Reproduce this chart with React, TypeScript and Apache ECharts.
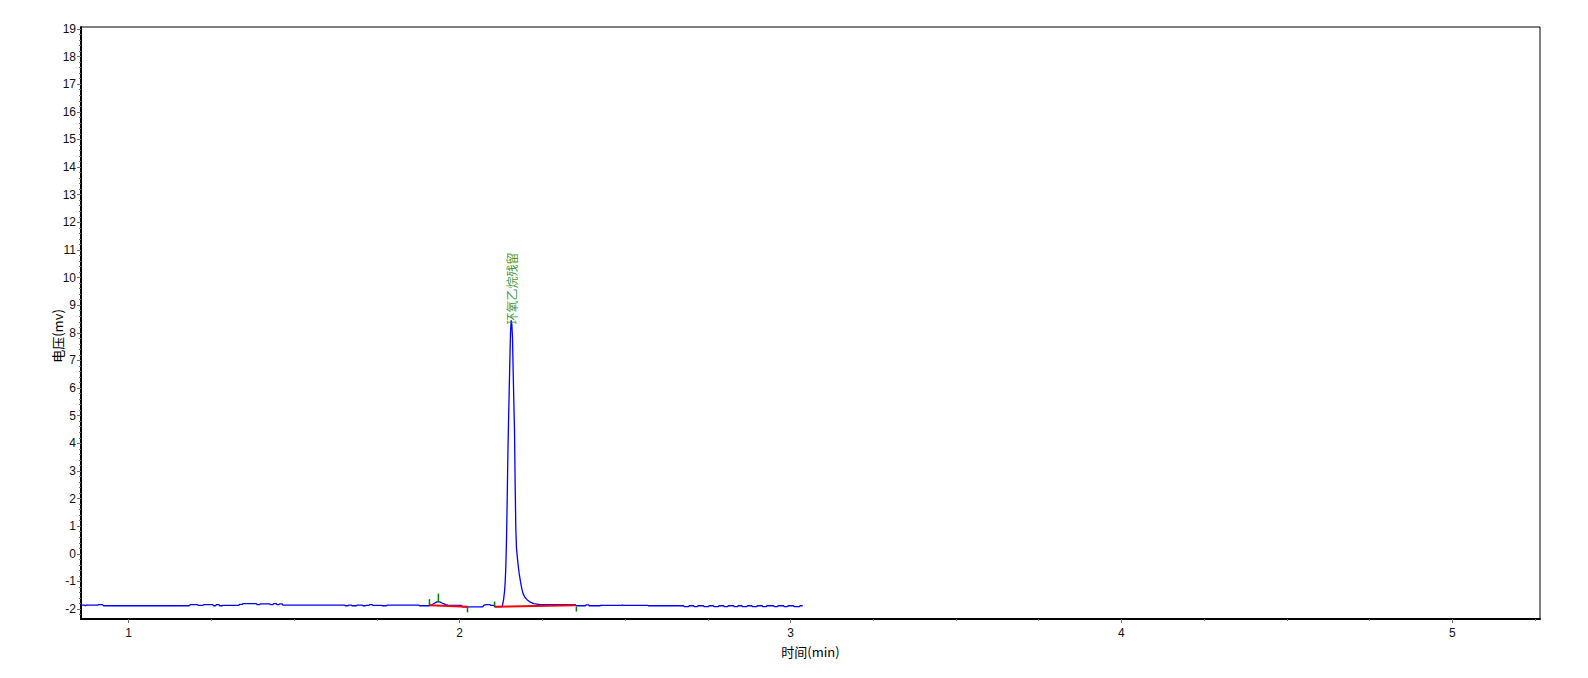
import React, { useEffect, useRef } from "react";
import * as echarts from "echarts";

// Axis ranges and ticks
const X_MIN = 0.856;
const X_MAX = 5.265;
const Y_MIN = -2.36;
const Y_MAX = 19.07;
const xMajor = [1, 2, 3, 4, 5];
const xMinor = [1.25, 1.5, 1.75, 2.25, 2.5, 2.75, 3.25, 3.5, 3.75, 4.25, 4.5, 4.75, 5.25];
const yMajor = [-2, -1, 0, 1, 2, 3, 4, 5, 6, 7, 8, 9, 10, 11, 12, 13, 14, 15, 16, 17, 18, 19];
const yMinor: number[] = [];
for (let v = -2.2; v < 19.05; v += 0.2) {
  const r = Math.round(v * 10) / 10;
  if (Math.abs(r - Math.round(r)) > 0.01) yMinor.push(r);
}

// Chromatogram trace: [time (min), voltage (mV)]
const trace: [number, number][] = [
  [0.856, -1.86], [0.866, -1.86], [0.869, -1.88], [0.872, -1.86], [0.906, -1.86], [0.909, -1.84], [0.921, -1.84], [0.924, -1.88],
  [1.183, -1.88], [1.186, -1.84], [1.208, -1.84], [1.211, -1.87], [1.224, -1.87], [1.227, -1.84], [1.254, -1.84], [1.257, -1.88],
  [1.263, -1.88], [1.265, -1.84], [1.273, -1.84], [1.275, -1.88], [1.283, -1.88], [1.285, -1.87],
  [1.333, -1.87], [1.335, -1.83], [1.344, -1.83], [1.346, -1.8], [1.386, -1.8], [1.388, -1.84], [1.396, -1.84], [1.398, -1.81],
  [1.426, -1.81], [1.428, -1.84], [1.436, -1.84], [1.438, -1.8], [1.446, -1.8], [1.448, -1.84], [1.454, -1.84], [1.456, -1.81],
  [1.464, -1.81], [1.466, -1.86],
  [1.653, -1.86], [1.655, -1.88], [1.663, -1.88], [1.665, -1.86], [1.673, -1.86], [1.675, -1.88], [1.688, -1.88], [1.69, -1.86],
  [1.706, -1.86], [1.708, -1.88], [1.716, -1.88], [1.718, -1.87], [1.726, -1.87], [1.728, -1.84], [1.736, -1.84], [1.738, -1.87],
  [1.764, -1.87], [1.766, -1.88], [1.779, -1.88], [1.781, -1.86],
  [1.877, -1.86], [1.879, -1.88], [1.909, -1.88],
  [1.915, -1.86], [1.921, -1.81], [1.927, -1.77], [1.932, -1.74], [1.94, -1.74], [1.947, -1.78], [1.953, -1.81], [1.959, -1.84],
  [1.965, -1.86], [2.006, -1.87], [2.008, -1.92], [2.07, -1.92], [2.073, -1.87], [2.08, -1.84], [2.092, -1.84], [2.095, -1.87],
  [2.104, -1.87], [2.106, -1.91], [2.128, -1.91],
  [2.13, -1.85], [2.133, -1.66], [2.136, -1.35], [2.138, -1.0], [2.14, -0.4], [2.142, 0.6], [2.144, 2.0], [2.146, 3.6],
  [2.148, 4.8], [2.15, 5.9], [2.152, 7.0], [2.154, 8.0], [2.156, 8.45], [2.158, 8.3], [2.16, 7.8], [2.162, 6.6],
  [2.164, 5.5], [2.166, 4.5], [2.168, 2.5], [2.17, 0.9], [2.172, 0.2], [2.176, -0.3], [2.18, -0.7], [2.184, -1.0],
  [2.188, -1.25], [2.192, -1.45], [2.198, -1.58], [2.204, -1.66], [2.214, -1.75], [2.224, -1.8], [2.243, -1.84],
  [2.35, -1.84], [2.352, -1.88], [2.38, -1.88], [2.382, -1.85], [2.39, -1.85], [2.392, -1.88], [2.425, -1.88], [2.427, -1.86],
  [2.432, -1.87], [2.49, -1.87], [2.492, -1.85], [2.495, -1.87], [2.57, -1.87], [2.572, -1.89], [2.575, -1.88], [2.677, -1.88],
  [2.679, -1.91], [2.692, -1.91], [2.694, -1.88], [2.707, -1.88], [2.709, -1.91], [2.719, -1.91], [2.721, -1.88], [2.737, -1.88],
  [2.739, -1.91], [2.752, -1.91], [2.754, -1.88], [2.767, -1.88], [2.769, -1.91], [2.782, -1.91], [2.784, -1.88], [2.798, -1.88],
  [2.8, -1.91], [2.81, -1.91], [2.812, -1.88], [2.828, -1.88], [2.83, -1.91], [2.84, -1.91], [2.842, -1.88], [2.853, -1.88],
  [2.855, -1.91], [2.868, -1.91], [2.87, -1.88], [2.883, -1.88], [2.885, -1.91], [2.898, -1.91], [2.9, -1.88], [2.914, -1.88],
  [2.916, -1.91], [2.927, -1.91], [2.929, -1.88], [2.949, -1.88], [2.951, -1.91], [2.961, -1.91], [2.963, -1.88], [2.979, -1.88],
  [2.981, -1.91], [2.991, -1.91], [2.993, -1.88], [3.009, -1.88], [3.011, -1.91], [3.027, -1.91], [3.029, -1.88], [3.037, -1.88],
];

// Integration baselines: [x1, y1, x2, y2]
const baselines: [number, number, number, number][] = [
  [1.909, -1.86, 2.024, -1.92],
  [2.106, -1.92, 2.35, -1.86],
];

// Peak start/apex/end markers: [x, y1, x, y2]
const markers: [number, number, number, number][] = [
  [1.909, -1.64, 1.909, -1.86],
  [1.936, -1.44, 1.936, -1.75],
  [2.024, -1.92, 2.024, -2.12],
  [2.106, -1.73, 2.106, -1.9],
  [2.353, -1.92, 2.353, -2.09],
];

// Peak name label
const peakLabel = { name: "环氧乙烷残留", x: 2.158, y: 8.3 };

const NUM_FONT = 'Arial, "Liberation Sans", sans-serif';
const CJK_FONT = '"Noto Sans CJK SC", "Noto Sans", sans-serif';

function segmentRenderer(color: string, width: number) {
  return (params: any, api: any) => {
    const p1 = api.coord([api.value(0), api.value(1)]);
    const p2 = api.coord([api.value(2), api.value(3)]);
    return {
      type: "line",
      shape: { x1: p1[0], y1: p1[1], x2: p2[0], y2: p2[1] },
      style: { stroke: color, lineWidth: width },
    };
  };
}

export default function App() {
  const ref = useRef<HTMLDivElement>(null);
  useEffect(() => {
    if (!ref.current) return;
    const chart = echarts.init(ref.current, undefined, { renderer: "svg" });
    const tickColor = "#707070";
    chart.setOption({
      animation: false,
      backgroundColor: "#ffffff",
      grid: {
        left: 81,
        top: 27,
        right: 48,
        bottom: 59,
        show: true,
        borderColor: "#000",
        borderWidth: 1,
        backgroundColor: "transparent",
      },
      graphic: [
        {
          type: "text",
          x: 57,
          y: 336,
          rotation: Math.PI / 2,
          style: {
            text: "电压(mv)",
            fontSize: 13,
            fontFamily: CJK_FONT,
            fill: "#000",
            textAlign: "center",
            textVerticalAlign: "middle",
            align: "center",
            verticalAlign: "middle",
          },
        },
      ],
      xAxis: [
        {
          type: "value",
          min: X_MIN,
          max: X_MAX,
          position: "bottom",
          axisLine: { show: true, onZero: false, lineStyle: { color: "#000", width: 2 } },
          axisTick: { show: true, customValues: xMajor, length: 4, lineStyle: { color: tickColor } },
          axisLabel: {
            customValues: xMajor,
            margin: 8,
            fontSize: 12,
            fontFamily: NUM_FONT,
            color: "#111",
            formatter: (v: number) => String(v),
          },
          splitLine: { show: false },
          name: "时间(min)",
          nameLocation: "middle",
          nameGap: 26,
          nameTextStyle: { fontSize: 13, fontFamily: CJK_FONT, color: "#000" },
        },
        {
          type: "value",
          min: X_MIN,
          max: X_MAX,
          position: "bottom",
          axisLine: { show: false, onZero: false },
          axisTick: { show: true, customValues: xMinor, length: 2, lineStyle: { color: tickColor } },
          axisLabel: { show: false },
          splitLine: { show: false },
        },
      ],
      yAxis: [
        {
          type: "value",
          min: Y_MIN,
          max: Y_MAX,
          position: "left",
          axisLine: { show: true, onZero: false, lineStyle: { color: "#000", width: 2 } },
          axisTick: { show: true, customValues: yMajor, length: 4, lineStyle: { color: tickColor } },
          axisLabel: {
            customValues: yMajor,
            margin: 5,
            fontSize: 12,
            fontFamily: NUM_FONT,
            color: "#111",
            formatter: (v: number) => String(v),
          },
          splitLine: { show: false },
        },
        {
          type: "value",
          min: Y_MIN,
          max: Y_MAX,
          position: "left",
          axisLine: { show: false, onZero: false },
          axisTick: { show: true, customValues: yMinor, length: 2, lineStyle: { color: tickColor } },
          axisLabel: { show: false },
          splitLine: { show: false },
        },
      ],
      series: [
        {
          type: "line",
          data: trace,
          showSymbol: false,
          symbol: "none",
          lineStyle: { color: "#0000ff", width: 1.3 },
          z: 3,
        },
        {
          type: "custom",
          data: baselines,
          renderItem: segmentRenderer("#ff0000", 2),
          z: 4,
        },
        {
          type: "custom",
          data: markers,
          renderItem: segmentRenderer("#008000", 1.5),
          z: 4,
        },
        {
          type: "scatter",
          data: [[peakLabel.x, peakLabel.y]],
          symbolSize: 0,
          z: 5,
          label: {
            show: true,
            formatter: peakLabel.name,
            position: "top",
            distance: 0,
            rotate: 90,
            align: "left",
            verticalAlign: "middle",
            fontSize: 12,
            fontFamily: CJK_FONT,
            color: "#008000",
          },
        },
      ],
    });
    return () => chart.dispose();
  }, []);
  return (
    <div
      ref={ref}
      style={{ position: "fixed", left: 0, top: 0, width: 1588, height: 678 }}
    />
  );
}
